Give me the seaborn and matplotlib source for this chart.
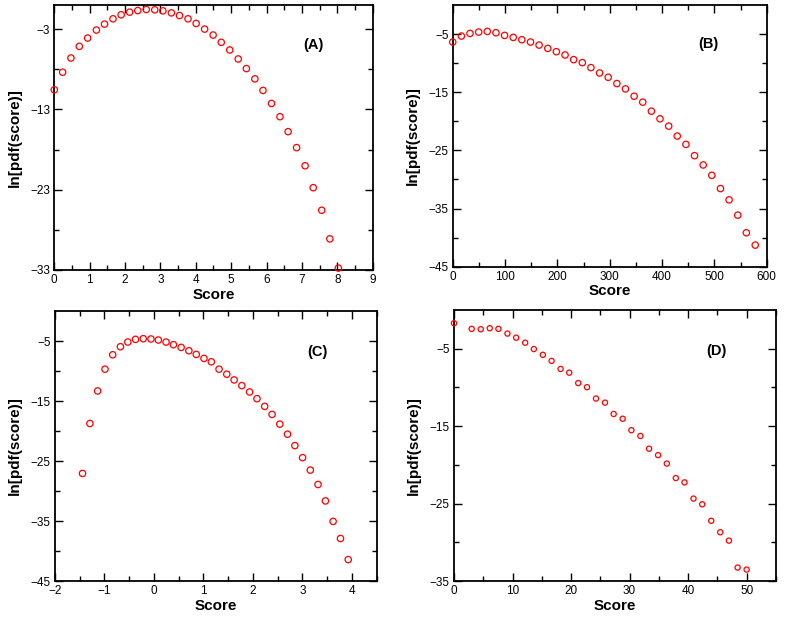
import matplotlib
matplotlib.use("Agg")
import matplotlib.pyplot as plt
import seaborn as sns
from matplotlib.ticker import FixedLocator, MultipleLocator

# panel A
a_score = [0.0, 0.236, 0.471, 0.707, 0.943, 1.19, 1.42, 1.66, 1.89, 2.13, 2.36, 2.60,
           2.84, 3.07, 3.31, 3.54, 3.78, 4.01, 4.25, 4.49, 4.72, 4.96, 5.20, 5.43,
           5.67, 5.90, 6.14, 6.38, 6.61, 6.85, 7.09, 7.32, 7.56, 7.79, 8.03]
a_lnpdf = [-10.56, -8.37, -6.60, -5.15, -4.12, -3.12, -2.38, -1.72, -1.22, -0.89, -0.69, -0.56,
           -0.60, -0.73, -0.98, -1.31, -1.72, -2.30, -3.00, -3.74, -4.65, -5.60, -6.72, -7.92,
           -9.20, -10.64, -12.26, -13.91, -15.77, -17.76, -20.02, -22.75, -25.56, -29.12, -32.76]

# panel B
b_score = [0, 16.5, 33, 49.6, 66, 82.6, 99, 115.6, 132, 148.6, 165, 181.6, 198, 214.6, 231,
           247.6, 264, 280.6, 297, 313.6, 330, 346.6, 363, 379.6, 396, 412.6, 429, 445.6,
           462, 478.6, 495, 511.6, 528, 544.6, 561, 578]
b_lnpdf = [-6.37, -5.34, -4.89, -4.66, -4.54, -4.77, -5.23, -5.57, -5.97, -6.37, -6.89, -7.46,
           -8.03, -8.60, -9.40, -9.91, -10.77, -11.69, -12.43, -13.51, -14.43, -15.69, -16.71,
           -18.26, -19.57, -20.83, -22.54, -23.97, -25.91, -27.51, -29.29, -31.57, -33.51,
           -36.14, -39.17, -41.29]

# panel C
c_score = [-1.444, -1.295, -1.139, -0.990, -0.834, -0.678, -0.529, -0.373, -0.217, -0.061,
           0.088, 0.244, 0.393, 0.549, 0.705, 0.854, 1.010, 1.159, 1.315, 1.471, 1.620, 1.776,
           1.932, 2.081, 2.237, 2.386, 2.542, 2.698, 2.847, 3.003, 3.159, 3.315, 3.464, 3.620,
           3.769, 3.925]
c_lnpdf = [-27.07, -18.74, -13.32, -9.69, -7.29, -5.95, -5.17, -4.72, -4.61, -4.66, -4.83,
           -5.17, -5.61, -6.06, -6.62, -7.23, -7.90, -8.46, -9.69, -10.53, -11.48, -12.43,
           -13.49, -14.61, -15.89, -17.23, -18.85, -20.53, -22.43, -24.44, -26.51, -28.91,
           -31.65, -35.06, -37.91, -41.43]

# panel D
d_score = [0, 3.02, 4.57, 6.11, 7.59, 9.13, 10.62, 12.16, 13.64, 15.18, 16.67, 18.21, 19.69,
           21.23, 22.72, 24.26, 25.80, 27.28, 28.82, 30.31, 31.85, 33.33, 34.87, 36.36, 37.90,
           39.38, 40.92, 42.41, 43.95, 45.49, 46.97, 48.46, 50.0]
d_lnpdf = [-1.70, -2.43, -2.48, -2.35, -2.43, -3.04, -3.57, -4.22, -5.04, -5.78, -6.57, -7.61,
           -8.09, -9.43, -9.96, -11.43, -11.96, -13.43, -14.04, -15.52, -16.26, -17.91, -18.74,
           -19.83, -21.70, -22.26, -24.35, -25.09, -27.22, -28.70, -29.78, -33.26, -33.52]

sns.set_style("ticks")
plt.rcParams['font.family'] = ['Liberation Sans', 'DejaVu Sans']
plt.rcParams['axes.linewidth'] = 1.3
for key in ['text.color', 'axes.labelcolor', 'xtick.color', 'ytick.color', 'axes.edgecolor']:
    plt.rcParams[key] = 'black'

fig = plt.figure(figsize=(7.89, 6.17), dpi=100)

panels = [
    # data, label, rect, xlim, xmajor, xminor, ylim, yticks, yminor, marker size
    (a_score, a_lnpdf, "(A)", [0.0688, 0.5624, 0.4035, 0.4295], (0, 9), 1, 0.5,
     (-33, 0), [-33, -23, -13, -3], [-28, -18, -8], 21),
    (b_score, b_lnpdf, "(B)", [0.5738, 0.5678, 0.398, 0.4241], (0, 600), 100, 50,
     (-45, 0), [-45, -35, -25, -15, -5], [-40, -30, -20, -10], 21),
    (c_score, c_lnpdf, "(C)", [0.0697, 0.0583, 0.4077, 0.4376], (-2, 4.5), 1, 0.5,
     (-45, 0), [-45, -35, -25, -15, -5], [-40, -30, -20, -10], 21),
    (d_score, d_lnpdf, "(D)", [0.5754, 0.0583, 0.408, 0.4392], (0, 55), 10, 5,
     (-35, 0), [-35, -25, -15, -5], [-30, -20, -10], 14),
]

for x, y, tag, rect, xlim, xmaj, xmin, ylim, yticks, yminor, ms in panels:
    ax = fig.add_axes(rect)
    sns.scatterplot(x=x, y=y, ax=ax, marker='o', s=ms, facecolor='none',
                    edgecolor='red', linewidth=0.9, clip_on=False, zorder=3)
    ax.set_xlim(*xlim)
    ax.set_ylim(*ylim)
    ax.xaxis.set_major_locator(MultipleLocator(xmaj))
    ax.xaxis.set_minor_locator(MultipleLocator(xmin))
    ax.yaxis.set_major_locator(FixedLocator(yticks))
    ax.yaxis.set_minor_locator(FixedLocator(yminor))
    ax.tick_params(which='both', direction='in', top=True, right=True, labelsize=8.5,
                   width=1.0, pad=3)
    ax.tick_params(which='major', length=6)
    ax.tick_params(which='minor', length=3.5)
    ax.set_xlabel("Score", fontsize=11, fontweight='bold', labelpad=1)
    ax.set_ylabel("ln[pdf(score)]", fontsize=11, fontweight='bold', labelpad=6)
    ax.text(0.815, 0.85, tag, transform=ax.transAxes, fontsize=10.5,
            fontweight='bold', ha='center', va='center')

fig.savefig("out.png", dpi=100)
